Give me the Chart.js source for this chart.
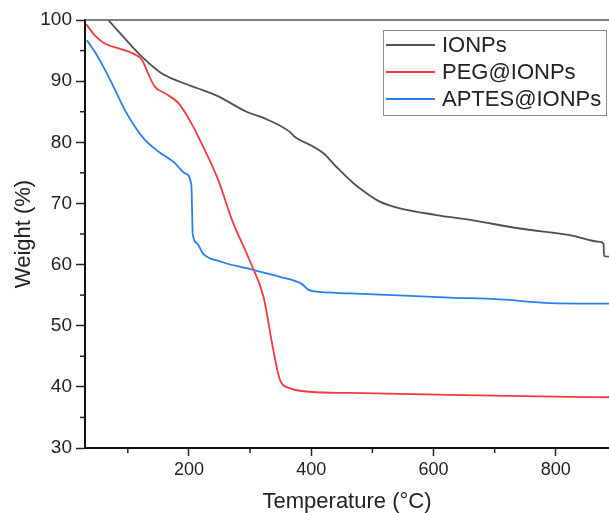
<!doctype html>
<html lang="en">
<head>
	<meta charset="utf-8">
	<title>TGA</title>
	<style>
		* { margin: 0; padding: 0; }
		body { background: #fff; }
		.chartBox { width: 609px; height: 513px; }
	</style>
</head>
<body>
	<div class="chartBox">
		<canvas id="tgaChart" width="609" height="513"></canvas>
	</div>
	<script src="https://cdn.jsdelivr.net/npm/chart.js"></script>
	<script>
		// values: temperature (°C) / weight (%)
		const ionpsTemp = [68, 95, 123, 155, 185, 215, 248, 294, 324, 365, 373, 403, 420, 441, 469, 490, 512, 545, 605, 660, 741, 823, 872, 878, 879, 887]
		const ionpsWeight = [100, 97.0, 94.0, 91.3, 89.9, 88.8, 87.5, 85.0, 83.9, 81.7, 80.9, 79.3, 78.2, 76.0, 73.3, 71.7, 70.3, 69.2, 68.1, 67.3, 65.9, 64.8, 63.7, 63.4, 61.4, 61.3]

		const pegTemp = [32, 46, 63, 84, 109, 123, 133, 144, 161, 183, 204, 226, 248, 270, 300, 322, 338, 349, 365, 398, 463, 627, 800, 887]
		const pegWeight = [99.3, 97.5, 96.1, 95.4, 94.5, 93.5, 91.3, 89.1, 88.0, 86.4, 83.1, 78.7, 73.8, 67.4, 60.5, 54.7, 46.0, 41.1, 39.8, 39.2, 39.0, 38.7, 38.4, 38.3]

		const aptesTemp = [33, 46, 63, 79, 95, 112, 128, 150, 177, 194, 204, 205.5, 206, 213, 223, 251, 294, 349, 385, 395, 405, 463, 627, 709, 790, 887]
		const aptesWeight = [96.7, 94.8, 91.8, 88.6, 85.3, 82.5, 80.4, 78.5, 76.6, 74.9, 73.0, 67.3, 65.1, 63.5, 61.8, 60.5, 59.4, 58.0, 56.8, 55.9, 55.6, 55.3, 54.6, 54.3, 53.7, 53.6]

		const seriesLabels = ['IONPs', 'PEG@IONPs', 'APTES@IONPs']
		const seriesColors = ['#505050', '#f43a3f', '#2a7ff0']
		const xTickValues = [100, 200, 300, 400, 500, 600, 700, 800]

		const pair = (xs, ys) => xs.map((x, i) => ({ x: x, y: ys[i] }))
		const ink = '#222'
		const font = 'Liberation Sans, Arial, sans-serif'

		// legend box inside the plot + short minor ticks + top frame line
		const extras = {
			id: 'extras',
			afterDraw(chart) {
				const { ctx, chartArea: a, scales: { x, y } } = chart
				ctx.save()
				ctx.strokeStyle = ink
				ctx.lineWidth = 1.5
				x.ticks.filter(t => t.value % 200 !== 0).forEach(t => {
					const px = x.getPixelForValue(t.value)
					ctx.beginPath(); ctx.moveTo(px, a.bottom); ctx.lineTo(px, a.bottom + 5); ctx.stroke()
				})
				y.ticks.filter(t => t.value % 10 !== 0).forEach(t => {
					const py = y.getPixelForValue(t.value)
					ctx.beginPath(); ctx.moveTo(a.left, py); ctx.lineTo(a.left - 5, py); ctx.stroke()
				})
				ctx.strokeStyle = '#555'
				ctx.beginPath(); ctx.moveTo(a.left, a.top); ctx.lineTo(a.right, a.top); ctx.stroke()

				// legend
				ctx.strokeStyle = '#8a8a8a'
				ctx.lineWidth = 1
				ctx.strokeRect(383.5, 30.5, 223, 85)
				ctx.font = '22px ' + font
				ctx.textBaseline = 'middle'
				ctx.fillStyle = ink
				chart.data.datasets.forEach((ds, i) => {
					const ly = 45 + i * 27
					ctx.strokeStyle = ds.borderColor
					ctx.lineWidth = 2
					ctx.beginPath(); ctx.moveTo(386, ly); ctx.lineTo(435, ly); ctx.stroke()
					ctx.fillText(ds.label, 442, ly + 1)
				})
				ctx.restore()
			}
		}

		const data = {
			datasets: [
				{ label: seriesLabels[0], data: pair(ionpsTemp, ionpsWeight), borderColor: seriesColors[0] },
				{ label: seriesLabels[1], data: pair(pegTemp, pegWeight), borderColor: seriesColors[1] },
				{ label: seriesLabels[2], data: pair(aptesTemp, aptesWeight), borderColor: seriesColors[2] }
			].map(ds => Object.assign(ds, {
				borderWidth: 1.8,
				pointRadius: 0,
				cubicInterpolationMode: 'monotone',
				fill: false
			}))
		}

		const config = {
			type: 'line',
			data,
			options: {
				responsive: false,
				animation: false,
				layout: { padding: { top: 20, right: 0, left: 0, bottom: 0 } },
				plugins: { legend: { display: false }, tooltip: { enabled: false } },
				scales: {
					x: {
						type: 'linear',
						min: 30,
						max: 887,
						afterBuildTicks: scale => { scale.ticks = xTickValues.map(v => ({ value: v })) },
						afterFit: scale => { scale.height = 65 },
						border: { display: true, color: '#111', width: 2 },
						grid: {
							drawOnChartArea: false,
							tickLength: 8,
							tickWidth: 1.5,
							tickColor: c => (c.tick && c.tick.value % 200 === 0) ? ink : 'rgba(0,0,0,0)'
						},
						ticks: {
							autoSkip: false,
							maxRotation: 0,
							padding: 3,
							color: ink,
							font: { family: font, size: 18 },
							callback: v => v % 200 === 0 ? v : ''
						},
						title: {
							display: true,
							text: 'Temperature (°C)',
							color: ink,
							font: { family: font, size: 22, lineHeight: 1 },
							padding: { top: 0, bottom: 0 }
						}
					},
					y: {
						min: 30,
						max: 100,
						afterFit: scale => { scale.width = 85 },
						border: { display: true, color: '#111', width: 2 },
						grid: {
							drawOnChartArea: false,
							tickLength: 9,
							tickWidth: 1.5,
							tickColor: c => (c.tick && c.tick.value % 10 === 0) ? ink : 'rgba(0,0,0,0)'
						},
						ticks: {
							stepSize: 5,
							autoSkip: false,
							padding: 4,
							color: ink,
							font: { family: font, size: 19 },
							callback: v => v % 10 === 0 ? v : ''
						},
						title: {
							display: true,
							text: 'Weight (%)',
							color: ink,
							font: { family: font, size: 22, lineHeight: 1 },
							padding: { top: 13, bottom: 0 }
						}
					}
				}
			},
			plugins: [extras]
		}

		const tgaChart = new Chart(document.getElementById('tgaChart'), config)
	</script>
</body>
</html>
